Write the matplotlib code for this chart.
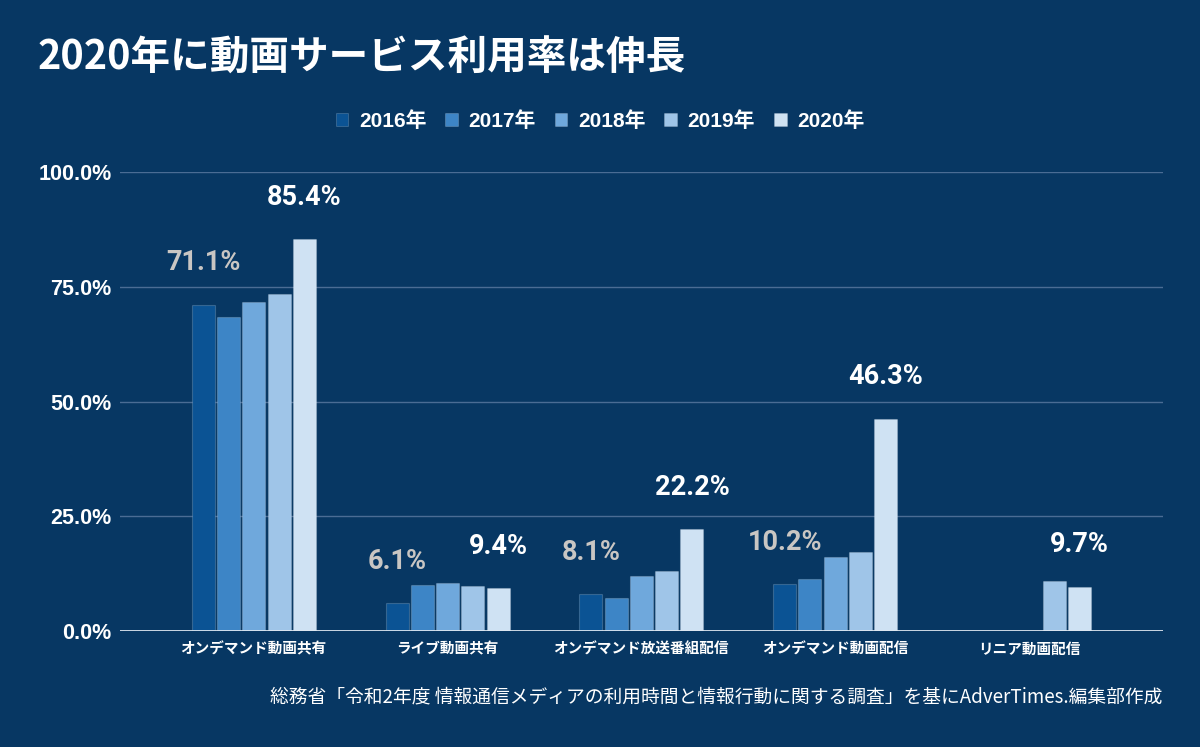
import numpy as np
import matplotlib
matplotlib.use("Agg")
from matplotlib import pyplot as plt
from matplotlib.patches import Patch

# data
categories = ["オンデマンド動画共有", "ライブ動画共有", "オンデマンド放送番組配信",
              "オンデマンド動画配信", "リニア動画配信"]
years = ["2016年", "2017年", "2018年", "2019年", "2020年"]
v2016 = [71.1, 6.1, 8.1, 10.2, np.nan]
v2017 = [68.5, 10.0, 7.3, 11.3, np.nan]
v2018 = [71.7, 10.5, 12.0, 16.1, np.nan]
v2019 = [73.4, 9.9, 13.1, 17.3, 11.0]
v2020 = [85.4, 9.4, 22.2, 46.3, 9.7]
series = [v2016, v2017, v2018, v2019, v2020]
yticks = [0, 25, 50, 75, 100]

bg = "#073763"
colors = ["#0b5394", "#3d85c6", "#6fa8dc", "#9fc5e8", "#cfe2f3"]
jp = ["Noto Sans CJK JP", "DejaVu Sans"]
lat = ["Liberation Sans", "Noto Sans CJK JP"]

fig = plt.figure(figsize=(12, 7.47), dpi=100, facecolor=bg)
ax = fig.add_axes([0.1, 0.155, 0.869, 0.615])
ax.set_facecolor(bg)

x = np.arange(len(categories))
pitch = 0.1304
width = 0.1186
for i, vals in enumerate(series):
    ax.bar(x + (i - 2) * pitch, vals, width, color=colors[i],
           edgecolor=(1, 1, 1, 0.18), linewidth=0.8, zorder=3)

# value labels: first year in grey, last year in white
for j in range(len(categories)):
    if not np.isnan(v2016[j]):
        ax.annotate(f"{v2016[j]:.1f}%", (x[j] - 2 * pitch, v2016[j]),
                    xytext=(0, 30), textcoords="offset points",
                    ha="center", va="center", fontsize=19.5, fontweight="bold",
                    family="Roboto", color="#c9c6c3", zorder=4)
    ax.annotate(f"{v2020[j]:.1f}%", (x[j] + 2 * pitch, v2020[j]),
                xytext=(0, 30), textcoords="offset points",
                ha="center", va="center", fontsize=19.5, fontweight="bold",
                family="Roboto", color="white", zorder=4)

ax.set_xlim(-0.69, 4.69)
ax.set_ylim(0, 100)
ax.set_yticks(yticks)
ax.set_yticklabels([f"{t:.1f}%" for t in yticks], fontsize=15.5,
                   fontweight="bold", family=lat, color="white")
ax.set_xticks(x)
ax.set_xticklabels(categories, fontsize=10.5, fontweight="bold",
                   family=jp, color="white")
ax.tick_params(axis="y", length=0, pad=6)
ax.tick_params(axis="x", length=0, pad=7)
for s in ax.spines.values():
    s.set_visible(False)
for t in yticks[1:]:
    ax.axhline(t, color="#4a6c94", linewidth=1, zorder=1)
ax.axhline(0, color="#dfe7f0", linewidth=2, zorder=5)

handles = [Patch(facecolor=c, edgecolor=(1, 1, 1, 0.2), linewidth=0.6) for c in colors]
fig.legend(handles, years, loc="center", bbox_to_anchor=(0.5, 1 - 121 / 747),
           ncol=5, frameon=False, handlelength=0.62, handleheight=0.62,
           handletextpad=0.5, columnspacing=0.9,
           prop={"family": lat, "weight": "bold", "size": 15},
           labelcolor="white")

fig.text(38 / 1200, 1 - 58 / 747, "2020年に動画サービス利用率は伸長",
         fontsize=28.5, fontweight="bold", family=jp, color="white",
         ha="left", va="center")
fig.text(1162 / 1200, 1 - 697 / 747,
         "総務省「令和2年度 情報通信メディアの利用時間と情報行動に関する調査」を基にAdverTimes.編集部作成",
         fontsize=13.5, family=jp, color="white", ha="right", va="center")

fig.savefig("out.png", dpi=100, facecolor=bg)
